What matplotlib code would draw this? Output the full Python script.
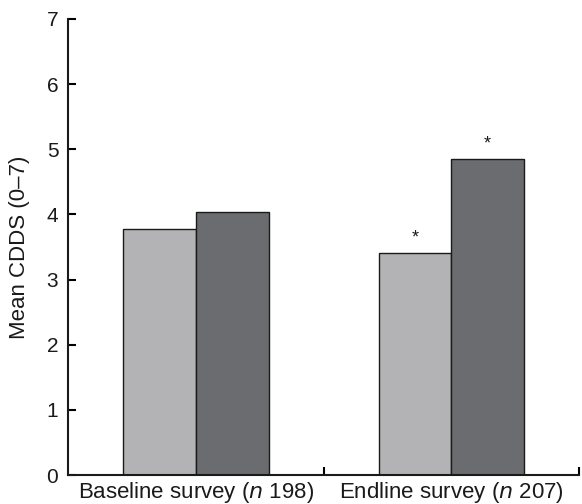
import matplotlib.pyplot as plt
import numpy as np

plt.rcParams['font.family'] = ['Liberation Sans', 'DejaVu Sans']

surveys = ['Baseline survey ($\\mathit{n}$ 198)', 'Endline survey ($\\mathit{n}$ 207)']
group_a = [3.77, 3.40]
group_b = [4.03, 4.85]
star_a = [False, True]
star_b = [False, True]

fig = plt.figure(figsize=(5.82, 5.04), dpi=100)
ax = fig.add_axes([0.117, 0.0575, 0.878, 0.905])

x = np.arange(len(surveys))
w = 0.285
ax.bar(x - w / 2, group_a, w, color='#b3b3b5', edgecolor='#1a1a1a', linewidth=1.0)
ax.bar(x + w / 2, group_b, w, color='#6b6c70', edgecolor='#1a1a1a', linewidth=1.0)

for i in range(len(surveys)):
    if star_a[i]:
        ax.text(x[i] - w / 2, group_a[i] + 0.1, '*', ha='center', va='bottom', fontsize=13, color='#1a1a1a')
    if star_b[i]:
        ax.text(x[i] + w / 2, group_b[i] + 0.1, '*', ha='center', va='bottom', fontsize=13, color='#1a1a1a')

ax.set_xlim(-0.5, 1.5)
ax.set_ylim(0, 7)
ax.set_yticks(range(8))
ax.set_xticks(x)
ax.set_xticklabels(surveys)
ax.tick_params(axis='x', length=0, labelsize=16, pad=3.5, labelcolor='#1a1a1a')
ax.set_xticks([0.5, 1.5], minor=True)
ax.tick_params(axis='x', which='minor', direction='in', length=6, width=1.5)
ax.tick_params(axis='y', direction='in', length=6, width=1.5, labelsize=15, pad=7, labelcolor='#1a1a1a')
ax.set_ylabel('Mean CDDS (0–7)', fontsize=16, labelpad=12, color='#1a1a1a')

for s in ['top', 'right']:
    ax.spines[s].set_visible(False)
for s in ['left', 'bottom']:
    ax.spines[s].set_linewidth(1.5)
    ax.spines[s].set_color('#1a1a1a')

fig.savefig('out.png', dpi=100)
